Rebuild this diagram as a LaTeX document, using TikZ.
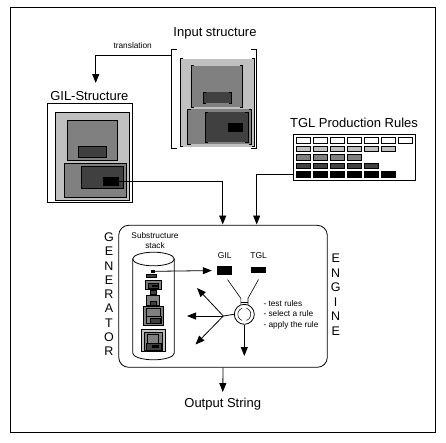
\documentclass[tikz,border=0pt]{standalone}
\usepackage{fontspec}
\setmainfont{Liberation Sans}
\usetikzlibrary{arrows.meta,calc}
\definecolor{lg}{HTML}{C0C0C0}
\definecolor{mg}{HTML}{808080}
\definecolor{dg}{HTML}{404040}
\newcommand\inbrk[5]{%
  \fill[#5] (#1,#2) rectangle (#3,#4);
  \draw[ln] (#1+3,#2) -- (#1,#2) -- (#1,#4) -- (#1+3,#4);
  \draw[ln] (#3-3,#2) -- (#3,#2) -- (#3,#4) -- (#3-3,#4);}
\begin{document}
\begin{tikzpicture}[x=1pt,y=-1pt,
  ln/.style={line width=0.8pt},
  arr/.style={-{Triangle[length=9pt,width=7pt]}, line width=0.8pt},
  ttl/.style={font=\fontsize{13}{14}\selectfont, inner sep=0},
  small/.style={font=\fontsize{8.3}{9}\selectfont, inner sep=0},
  bx/.style={draw=black, line width=0.8pt},
  cell/.style={draw=black, line width=0.7pt}]
\useasboundingbox (0,0) rectangle (446,442);
\draw[line width=0.9pt] (10.7,7.3) rectangle (435,432);

% ---------- Input structure ----------
\node[ttl] (inT) at (215,33) {Input structure};
\node[minimum width=84.6pt, minimum height=99.4pt, inner sep=0] (inbox) at (214,99) {};
\draw[ln] (177,49.3) -- (171.7,49.3) -- (171.7,148.7) -- (177,148.7);
\draw[ln] (251,49.3) -- (256.3,49.3) -- (256.3,148.7) -- (251,148.7);
\inbrk{180.3}{58.5}{254.5}{146.5}{lg}
\inbrk{191}{65.7}{242.7}{107.3}{mg}
\inbrk{203.3}{92.3}{231.7}{103.3}{dg}
\inbrk{187.7}{109}{251.7}{144}{mg}
\inbrk{205}{112.3}{248.3}{142.3}{dg}
\fill[black] (227.7,122.7) rectangle (243.3,132.3);

% translation arrow
\node[small] (trl) at (132.7,45.7) {translation};
\coordinate (inL) at (171.7,55);
\coordinate (trEnd) at (95.7,83);
\draw[arr] (inL) -| (trEnd);

% ---------- GIL structure ----------
\node[ttl] (gilT) at (89.3,95.7) {GIL-Structure};
\node[bx, fill=white, minimum width=85pt, minimum height=98.7pt, inner sep=0] (gilbox) at (89.8,152.65) {};
\draw[bx, fill=lg] (55.3,112.3) rectangle (129.3,200.3);
\draw[bx, fill=mg] (67.3,120.3) rectangle (117.3,160.7);
\draw[bx, fill=dg] (78.3,146) rectangle (106.7,157.3);
\draw[bx, fill=mg] (64,163) rectangle (126.7,197.3);
\draw[bx, fill=dg] (81.3,166.3) rectangle (123.3,188.3);
\node[fill=black, minimum width=16pt, minimum height=8.7pt, inner sep=0] (gilblk) at (110.7,181.3) {};

% ---------- TGL production rules ----------
\node[ttl] (tglT) at (354,123.3) {TGL Production Rules};
\node[bx, minimum width=122.4pt, minimum height=46pt, inner sep=0] (tgl) at (354.5,157.3) {};
\foreach \i in {0,...,6} \draw[cell, fill=white] (296+17*\i,137) rectangle (310.3+17*\i,143.3);
\foreach \i in {0,...,5} \draw[cell, fill=lg] (296+17*\i,146) rectangle (310.3+17*\i,151.3);
\foreach \i in {0,...,3} \draw[cell, fill=mg] (296+17*\i,154.3) rectangle (310.3+17*\i,160);
\foreach \i in {0,...,4} \draw[cell, fill=dg] (296+17*\i,163) rectangle (310.3+17*\i,168.3);
\foreach \i in {0,...,5} \draw[cell, fill=black] (296+17*\i,171) rectangle (310.3+17*\i,177.3);

% ---------- Engine ----------
\node[bx, rounded corners=10pt, minimum width=208.6pt, minimum height=142pt, inner sep=0] (engine) at (223,296.3) {};
\coordinate (in1) at (222.7,224.5);
\coordinate (in2) at (256.7,224.5);
\coordinate (tglL) at (293.3,174);
\draw[arr] (gilblk.east) -| (in1);
\draw[arr] (tglL) -| (in2);

\node[align=center, font=\fontsize{12.5}{14.3}\selectfont, inner sep=0] (gen) at (109,294.3) {G\\E\\N\\E\\R\\A\\T\\O\\R};
\node[align=center, font=\fontsize{12.5}{14.5}\selectfont, inner sep=0] (eng) at (335.7,294.7) {E\\N\\G\\I\\N\\E};

% stack
\node[small] (sub1) at (155,236) {Substructure};
\node[small] (sub2) at (155,246) {stack};
\draw[ln, fill=white] (153.5,259) ellipse [x radius=20.8, y radius=6.8];
\draw[ln] (132.7,259) -- (132.7,353) arc[start angle=180, end angle=0, x radius=20.8, y radius=6.8] -- (174.3,259);
\node[fill=black, minimum width=4pt, minimum height=3pt, inner sep=0] (stk) at (153,271.3) {};
\draw[bx, fill=dg] (146.7,274) rectangle (156.7,277.3);
\draw[bx, fill=mg] (145,280.7) rectangle (161,289);
\draw[bx, fill=dg] (148,283) rectangle (158,288);
\fill[black] (152,284.5) rectangle (158,286.5);
\draw[bx, fill=dg] (150,290.7) rectangle (156.7,294);
\draw[bx, fill=mg] (146.7,295) rectangle (159.3,305.7);
\draw[bx, fill=dg] (150,301) rectangle (156,305);
\draw[bx, fill=mg] (143.3,306) rectangle (163.3,325);
\draw[bx, fill=mg] (146,308.5) rectangle (160,316);
\draw[bx, fill=mg] (146,316) rectangle (161,323.5);
\draw[bx, fill=dg] (150,318) rectangle (160,323);
\draw[bx, fill=lg] (141.7,329.3) rectangle (165,351.7);
\draw[bx, fill=mg] (144.5,332) rectangle (162,350);
\draw[bx, fill=mg] (147,334) rectangle (158,343);
\draw[bx, fill=dg] (146,343) rectangle (161,350);
\fill[black] (152,345) rectangle (159,348);

% GIL / TGL selectors
\node[small, font=\fontsize{8.5}{9}\selectfont] (gilL) at (224.7,256) {GIL};
\node[small, font=\fontsize{8.5}{9}\selectfont] (tglLab) at (258.7,256) {TGL};
\node[fill=black, minimum width=15pt, minimum height=9pt, inner sep=0] (gilr) at (224.5,270.5) {};
\node[fill=black, minimum width=15pt, minimum height=6.7pt, inner sep=0] (tglr) at (258.5,270) {};
\draw[arr, shorten >=5pt] (stk.east) -- (gilr.west);

% control circle
\node[draw, circle, line width=0.8pt, minimum size=20pt, inner sep=0] (ctrl) at (244.3,314.3) {};
\draw[line width=0.5pt] (244.3,314.3) ++(110:6.5) arc[start angle=110, end angle=250, radius=6.5];
\draw[line width=0.5pt] (244.3,314.3) ++(290:6.5) arc[start angle=290, end angle=430, radius=6.5];
\coordinate (s1) at (240.8,298.3);
\coordinate (s2) at (248,298.3);
\draw[line width=0.6pt] (gilr.south) ++(3,4.3) -- (s1) -- (240.8,304.6);
\draw[line width=0.6pt] (tglr.south) ++(0,6) -- (s2) -- (248,304.6);
\draw[line width=0.6pt] (240.8,302.5) -- (248,302.5);

\coordinate (hub) at (223.3,316);
\coordinate (a1) at (197,288);
\coordinate (a2) at (187,316);
\coordinate (a3) at (195.5,344.5);
\coordinate (a4) at (244.3,356);
\draw[ln] (ctrl.west) -- (hub);
\draw[arr] (hub) -- (a1);
\draw[arr] (hub) -- (a2);
\draw[arr] (hub) -- (a3);
\draw[arr] (ctrl.south) -- (a4);

\node[small, anchor=west] (b1) at (263.3,304) {- test rules};
\node[small, anchor=west] (b2) at (263.3,314) {- select a rule};
\node[small, anchor=west] (b3) at (263.3,325) {- apply the rule};

% output
\node[ttl] (out) at (222.7,404.3) {Output String};
\draw[arr, shorten >=6pt] (engine.south) -- (out.north);
\end{tikzpicture}
\end{document}
